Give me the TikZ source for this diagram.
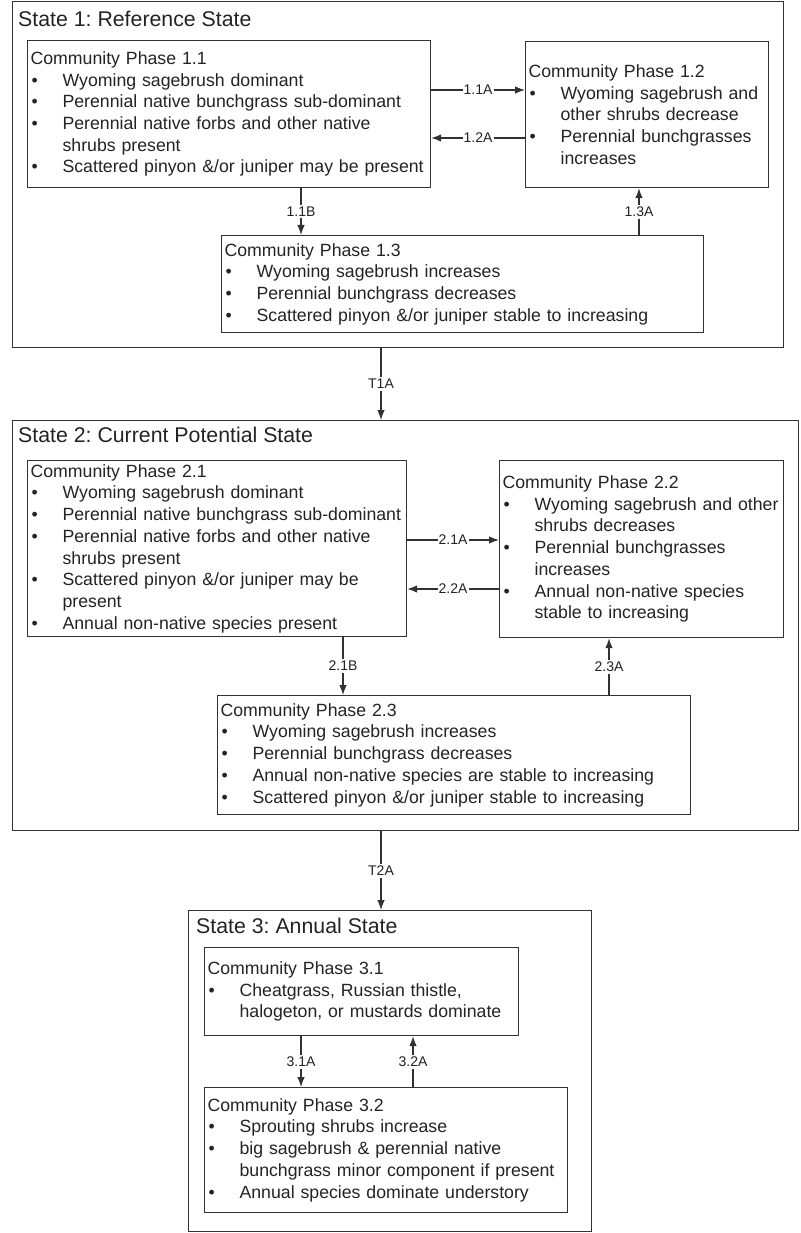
\documentclass[tikz,border=0pt]{standalone}
\usepackage{fontspec}
\setmainfont{Liberation Sans}
\usetikzlibrary{arrows.meta}
\definecolor{ink}{RGB}{50,50,50}
\definecolor{txt}{RGB}{35,35,35}
\newcommand{\bl}{\makebox[32pt][l]{\hspace{1pt}•}}
\newcommand{\ct}{\hspace*{32pt}}
\tikzset{
  statebox/.style={draw=ink, line width=1.3pt, anchor=north west, inner sep=0pt},
  phasebox/.style={draw=ink, line width=1.2pt, anchor=north west, inner xsep=3pt, inner ysep=0pt,
    align=left, text=txt, font=\fontsize{17.7}{21.7}\selectfont},
  title/.style={anchor=base west, inner sep=0pt, text=txt, font=\fontsize{21.3}{25}\selectfont},
  arr/.style={draw=ink, line width=1.2pt, -{Latex[length=10pt,width=7.5pt]}},
  lbl/.style={fill=white, inner xsep=1pt, inner ysep=2pt, text=txt, font=\fontsize{14}{15}\selectfont}
}
\begin{document}
\frenchspacing
\begin{tikzpicture}[x=1pt,y=-1pt]
\useasboundingbox (0,0) rectangle (800,1233);
% states
\node[statebox, minimum width=771pt, minimum height=346pt] (s1) at (12,1) {};
\node[statebox, minimum width=786pt, minimum height=410pt] (s2) at (12,420) {};
\node[statebox, minimum width=403pt, minimum height=321pt] (s3) at (188,910) {};
\node[title] (t1) at (18,27) {State 1: Reference State};
\node[title] (t2) at (18,442) {State 2: Current Potential State};
\node[title] (t3) at (196,933) {State 3: Annual State};
% phases state 1
\node[phasebox, text width=397pt, minimum height=147pt] (p11) at (27,40) {Community Phase 1.1\\
\bl Wyoming sagebrush dominant\\
\bl Perennial native bunchgrass sub-dominant\\
\bl Perennial native forbs and other native\\
\ct shrubs present\\
\bl Scattered pinyon \&/or juniper may be present};
\node[phasebox, text width=237pt, minimum height=146pt] (p12) at (525,41) {Community Phase 1.2\\
\bl Wyoming sagebrush and\\
\ct other shrubs decrease\\
\bl Perennial bunchgrasses\\
\ct increases};
\node[phasebox, text width=476pt, minimum height=97pt] (p13) at (221,235) {Community Phase 1.3\\
\bl Wyoming sagebrush increases\\
\bl Perennial bunchgrass decreases\\
\bl Scattered pinyon \&/or juniper stable to increasing};
% phases state 2
\node[phasebox, text width=373pt, minimum height=176pt] (p21) at (27,460) {Community Phase 2.1\\
\bl Wyoming sagebrush dominant\\
\bl Perennial native bunchgrass sub-dominant\\
\bl Perennial native forbs and other native\\
\ct shrubs present\\
\bl Scattered pinyon \&/or juniper may be\\
\ct present\\
\bl Annual non-native species present};
\node[phasebox, text width=278pt, minimum height=177pt] (p22) at (499,460) {Community Phase 2.2\\
\bl Wyoming sagebrush and other\\
\ct shrubs decreases\\
\bl Perennial bunchgrasses\\
\ct increases\\
\bl Annual non-native species\\
\ct stable to increasing};
\node[phasebox, text width=467pt, minimum height=119pt] (p23) at (217,695) {Community Phase 2.3\\
\bl Wyoming sagebrush increases\\
\bl Perennial bunchgrass decreases\\
\bl Annual non-native species are stable to increasing\\
\bl Scattered pinyon \&/or juniper stable to increasing};
% phases state 3
\node[phasebox, text width=308pt, minimum height=88pt] (p31) at (204,947) {Community Phase 3.1\\
\bl Cheatgrass, Russian thistle,\\
\ct halogeton, or mustards dominate};
\node[phasebox, text width=357pt, minimum height=125pt] (p32) at (204,1087) {Community Phase 3.2\\
\bl Sprouting shrubs increase\\
\bl big sagebrush \& perennial native\\
\ct bunchgrass minor component if present\\
\bl Annual species dominate understory};
% guide coordinates
\coordinate (y11a) at (0,90);
\coordinate (y12a) at (0,138);
\coordinate (x11b) at (301,0);
\coordinate (x13a) at (639,0);
\coordinate (xT) at (381,0);
\coordinate (y21a) at (0,540);
\coordinate (y22a) at (0,589);
\coordinate (x21b) at (343,0);
\coordinate (x23a) at (609,0);
\coordinate (x31a) at (301,0);
\coordinate (x32a) at (413,0);
% connectors state 1
\draw[arr] (p11.east |- y11a) -- node[lbl]{1.1A} (p12.west |- y11a);
\draw[arr] (p12.west |- y12a) -- node[lbl]{1.2A} (p11.east |- y12a);
\draw[arr] (x11b |- p11.south) -- node[lbl]{1.1B} (x11b |- p13.north);
\draw[arr] (x13a |- p13.north) -- node[lbl]{1.3A} (x13a |- p12.south);
% transitions
\draw[arr] (xT |- s1.south) -- node[lbl]{T1A} (xT |- s2.north);
\draw[arr] (xT |- s2.south) -- node[lbl]{T2A} (xT |- s3.north);
% connectors state 2
\draw[arr] (p21.east |- y21a) -- node[lbl]{2.1A} (p22.west |- y21a);
\draw[arr] (p22.west |- y22a) -- node[lbl]{2.2A} (p21.east |- y22a);
\draw[arr] (x21b |- p21.south) -- node[lbl]{2.1B} (x21b |- p23.north);
\draw[arr] (x23a |- p23.north) -- node[lbl]{2.3A} (x23a |- p22.south);
% connectors state 3
\draw[arr] (x31a |- p31.south) -- node[lbl]{3.1A} (x31a |- p32.north);
\draw[arr] (x32a |- p32.north) -- node[lbl]{3.2A} (x32a |- p31.south);
\end{tikzpicture}
\end{document}
